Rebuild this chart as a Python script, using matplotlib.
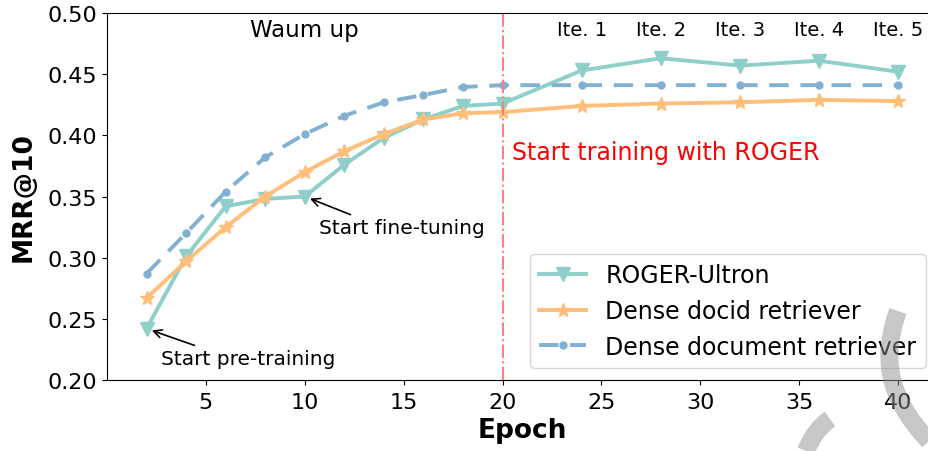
import matplotlib
matplotlib.use("Agg")
import matplotlib.pyplot as plt
from matplotlib.path import Path
from matplotlib.patches import PathPatch

epochs = [2, 4, 6, 8, 10, 12, 14, 16, 18, 20, 24, 28, 32, 36, 40]
roger_ultron = [0.242, 0.301, 0.342, 0.348, 0.350, 0.376, 0.398, 0.413, 0.424, 0.426,
                0.453, 0.463, 0.457, 0.461, 0.452]
dense_docid = [0.267, 0.297, 0.325, 0.350, 0.370, 0.387, 0.401, 0.413, 0.418, 0.419,
               0.424, 0.426, 0.427, 0.429, 0.428]
dense_doc = [0.287, 0.320, 0.354, 0.382, 0.401, 0.416, 0.427, 0.433, 0.4395, 0.441,
             0.441, 0.441, 0.441, 0.441, 0.441]
iter_epochs = [24, 28, 32, 36, 40]
iter_labels = ["Ite. 1", "Ite. 2", "Ite. 3", "Ite. 4", "Ite. 5"]
x_ticks = [5, 10, 15, 20, 25, 30, 35, 40]
y_ticks = [0.20, 0.25, 0.30, 0.35, 0.40, 0.45, 0.50]

fig = plt.figure(figsize=(9.29, 4.52), dpi=100)
ax = fig.add_axes([107 / 929, 71 / 452, (937.6 - 107) / 929, (381 - 14) / 452])

ax.plot(epochs, roger_ultron, color="#8ECFC9", marker="v", markersize=10, linewidth=2.8,
        label="ROGER-Ultron")
ax.plot(epochs, dense_docid, color="#FFBE7A", marker="*", markersize=10, linewidth=2.8,
        label="Dense docid retriever")
ax.plot(epochs, dense_doc, color="#82B0D2", marker="o", markersize=5, linewidth=2.8,
        linestyle=(0, (5, 3)), label="Dense document retriever")

ax.axvline(20, color="#FF7F7F", linestyle="-.", linewidth=1.5)

ax.set_xlim(0, 42)
ax.set_ylim(0.20, 0.50)
ax.set_xticks(x_ticks)
ax.set_yticks(y_ticks)
ax.set_yticklabels([f"{v:.2f}" for v in y_ticks])
ax.tick_params(labelsize=16)
ax.tick_params(axis="x", pad=5)
ax.set_xlabel("Epoch", fontsize=19, fontweight="bold", labelpad=4)
ax.set_ylabel("MRR@10", fontsize=19, fontweight="bold", labelpad=7.5)

ax.text(10, 0.4865, "Waum up", fontsize=16.5, ha="center", va="center")
for xe, lab in zip(iter_epochs, iter_labels):
    ax.text(xe, 0.4865, lab, fontsize=14, ha="center", va="center")
ax.text(20.5, 0.3865, "Start training with ROGER", fontsize=17, color="red",
        ha="left", va="center")

ax.annotate("Start fine-tuning", xy=(10, roger_ultron[4]), xytext=(10.7, 0.3243),
            fontsize=14.5, ha="left", va="center",
            arrowprops=dict(arrowstyle="->", color="black", lw=1.2,
                            relpos=(0.25, 1.0), shrinkA=2, shrinkB=4))
ax.annotate("Start pre-training", xy=(2, roger_ultron[0]), xytext=(2.75, 0.2175),
            fontsize=14.5, ha="left", va="center",
            arrowprops=dict(arrowstyle="->", color="black", lw=1.2,
                            relpos=(0.25, 1.0), shrinkA=2, shrinkB=4))

ax.legend(loc="lower right", fontsize=17, handlelength=2.0, borderaxespad=0.5)

# light gray watermark stroke (decoration)
codes = [Path.MOVETO, Path.CURVE4, Path.CURVE4, Path.CURVE4]
verts = [(898, 140), (882, 95), (886, 55), (929, 10)]
fig.add_artist(PathPatch(Path(verts, codes), transform=None, fill=False,
                         edgecolor="#909090", alpha=0.5, linewidth=13,
                         capstyle="butt", zorder=100))
verts2 = [(806, 0), (812, 15), (820, 25), (830, 32)]
fig.add_artist(PathPatch(Path(verts2, codes), transform=None, fill=False,
                         edgecolor="#909090", alpha=0.5, linewidth=13,
                         capstyle="butt", zorder=100))

fig.savefig("out.png", dpi=100)
